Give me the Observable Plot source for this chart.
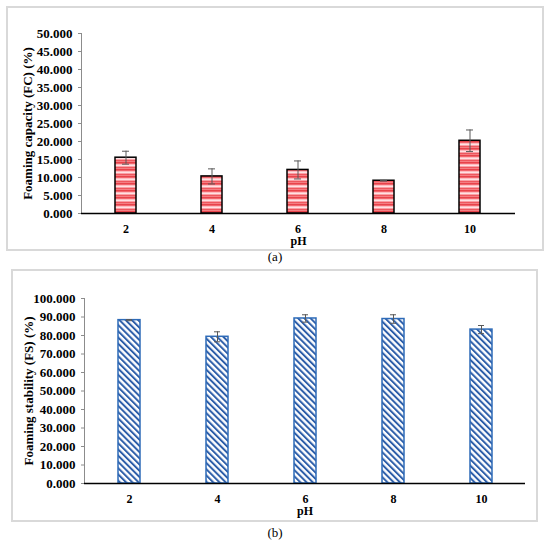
<!DOCTYPE html>
<html>
<head>
<meta charset="utf-8">
<script src="https://cdn.jsdelivr.net/npm/d3@7"></script>
<script src="https://cdn.jsdelivr.net/npm/@observablehq/plot@0.6"></script>
<style>
  html, body { margin: 0; padding: 0; background: #fff; }
  body { width: 550px; height: 544px; position: relative; overflow: hidden; font-family: "Liberation Serif", "Times New Roman", serif; }
  .panel { position: absolute; border: 2px solid #d9d9d9; box-sizing: border-box; background: #fff; }
  .panel svg { display: block; }
  .panel svg, .panel svg text { font-family: "Liberation Serif", "Times New Roman", serif !important; }
  .cap { position: absolute; left: 0; width: 550px; text-align: center; font-size: 13px; line-height: 16px; color: #000; }
</style>
</head>
<body>
<div id="pa" class="panel" style="left:6px;top:6px;width:538px;height:245px"></div>
<div class="cap" style="top:249px">(a)</div>
<div id="pb" class="panel" style="left:11px;top:269px;width:527px;height:253px"></div>
<div class="cap" style="top:525px">(b)</div>
<script>
// ---- data ----
const pH = ["2", "4", "6", "8", "10"];
const fcValues = [15.5, 10.3, 12.1, 9.1, 20.2];
const fcErrors = [1.8, 2.1, 2.5, 0.1, 3.0];
const fsValues = [88.3, 79.3, 89.2, 88.9, 83.2];
const fsErrors = [0.3, 2.7, 2.0, 2.3, 2.2];
const fcTicks = [0, 5, 10, 15, 20, 25, 30, 35, 40, 45, 50];
const fsTicks = [0, 10, 20, 30, 40, 50, 60, 70, 80, 90, 100];
const xLabel = "pH";
const fcLabel = "Foaming capacity (FC) (%)";
const fsLabel = "Foaming stability (FS) (%)";

const fcData = pH.map((p, i) => ({pH: p, v: fcValues[i], e: fcErrors[i]}));
const fsData = pH.map((p, i) => ({pH: p, v: fsValues[i], e: fsErrors[i]}));

const FONT = '"Liberation Serif", "Times New Roman", serif';

function defsA() {
  const defs = d3.create("svg:defs");
  const p = defs.append("pattern").attr("id", "patA").attr("patternUnits", "userSpaceOnUse")
    .attr("width", 4).attr("height", 7);
  const rows = ["#e8434b", "#f1666d", "#fdbcc0", "#ffe1e3", "#f9a0a5", "#ee575e", "#f47e83"];
  rows.forEach((c, i) => p.append("rect").attr("x", 0).attr("y", i).attr("width", 4).attr("height", 1).attr("fill", c));
  return defs.node();
}
function defsB() {
  const defs = d3.create("svg:defs");
  const p = defs.append("pattern").attr("id", "patB").attr("patternUnits", "userSpaceOnUse")
    .attr("width", 4.4).attr("height", 10).attr("patternTransform", "rotate(-45)");
  p.append("rect").attr("width", 4.4).attr("height", 10).attr("fill", "#fff");
  p.append("rect").attr("x", 0).attr("y", 0).attr("width", 2).attr("height", 10).attr("fill", "#2d5ea9");
  return defs.node();
}

function makeChart({data, ticks, yMax, label, width, height, margins, pattern, defs, barStroke, capInset, labelDx}) {
  return Plot.plot({
    width, height,
    marginLeft: margins[0], marginRight: margins[1], marginTop: margins[2], marginBottom: margins[3],
    style: {fontFamily: FONT, fontSize: "13px", fontWeight: "bold", color: "#000", background: "#fff", overflow: "visible"},
    x: {type: "band", domain: pH, paddingInner: 0.755, paddingOuter: 0.3775, label: null},
    y: {domain: [0, yMax], label: null},
    marks: [
      defs,
      Plot.frame({anchor: "left", stroke: "#8c8c8c", strokeWidth: 1}),
      Plot.axisY({ticks, tickFormat: d3.format(".3f"), tickSize: 3, tickPadding: 6, stroke: "#8c8c8c", fill: "#000", fontWeight: "bold", fontFamily: FONT, fontSize: 13, label: null}),
      Plot.axisX({tickSize: 0, tickPadding: 11, fill: "#000", fontWeight: "bold", fontFamily: FONT, fontSize: 12, label: null}),
      Plot.barY(data, {x: "pH", y: "v", fill: pattern, stroke: barStroke, strokeWidth: 1.5}),
      Plot.ruleY([0], {stroke: "#000", strokeWidth: 1.5}),
      Plot.ruleX(data, {x: "pH", y1: d => d.v - d.e, y2: d => d.v + d.e, stroke: "#595959", strokeWidth: 1}),
      Plot.tickY(data, {x: "pH", y: d => d.v + d.e, stroke: "#595959", strokeWidth: 1, insetLeft: capInset, insetRight: capInset}),
      Plot.tickY(data, {x: "pH", y: d => d.v - d.e, stroke: "#595959", strokeWidth: 1, insetLeft: capInset, insetRight: capInset}),
      Plot.text([label], {frameAnchor: "left", rotate: -90, dx: labelDx, textAnchor: "middle", lineAnchor: "middle", fontWeight: "bold", fontFamily: FONT, fontSize: 13, fill: "#000"}),
      Plot.text([xLabel], {frameAnchor: "bottom", dy: 28, textAnchor: "middle", lineAnchor: "middle", fontWeight: "bold", fontFamily: FONT, fontSize: 12, fill: "#000"})
    ]
  });
}

document.getElementById("pa").appendChild(makeChart({
  data: fcData, ticks: fcTicks, yMax: 50, label: fcLabel,
  width: 534, height: 241, margins: [73, 27, 25, 36],
  pattern: "url(#patA)", defs: defsA, barStroke: "#000", capInset: 7, labelDx: -54
}));
document.getElementById("pb").appendChild(makeChart({
  data: fsData, ticks: fsTicks, yMax: 100, label: fsLabel,
  width: 523, height: 249, margins: [71, 11, 27, 37],
  pattern: "url(#patB)", defs: defsB, barStroke: "#2e6bb8", capInset: 8, labelDx: -56
}));
</script>
</body>
</html>
